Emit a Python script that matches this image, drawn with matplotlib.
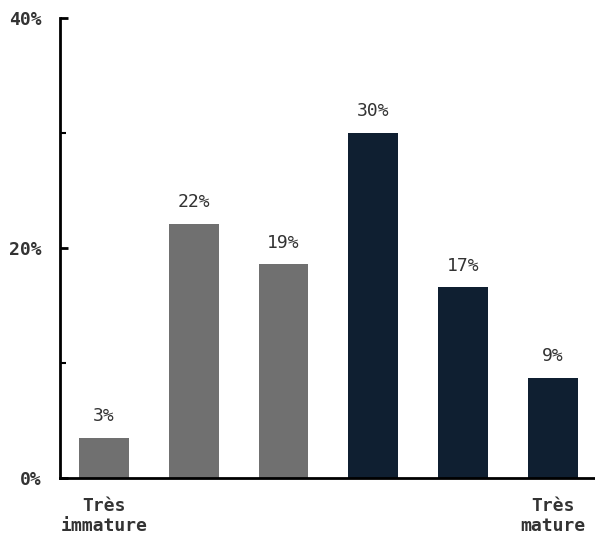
import matplotlib
matplotlib.use("Agg")
import matplotlib.pyplot as plt
from matplotlib.ticker import MultipleLocator, FuncFormatter

categories = ["Très\nimmature", "", "", "", "", "Très\nmature"]
values = [3.5, 22.1, 18.6, 30.0, 16.6, 8.7]
labels = ["3%", "22%", "19%", "30%", "17%", "9%"]
colors = ["#707070", "#707070", "#707070", "#0f1f31", "#0f1f31", "#0f1f31"]

plt.rcParams['font.family'] = ['DejaVu Sans Mono']

fig = plt.figure(figsize=(5.95, 5.35), dpi=100)
ax = fig.add_axes([60/595, 1-478/535, 1-60/595, (478-18)/535])

x = list(range(len(values)))
ax.bar(x, values, width=0.556, color=colors)
for xi, v, l in zip(x, values, labels):
    ax.annotate(l, (xi, v), xytext=(0, 9), textcoords='offset points',
                ha='center', va='bottom', fontsize=13, color='#333333')

ax.set_xlim(-0.49, 5.47)
ax.set_ylim(0, 40)
ax.yaxis.set_major_locator(MultipleLocator(20))
ax.yaxis.set_minor_locator(MultipleLocator(10))
ax.yaxis.set_major_formatter(FuncFormatter(lambda v, p: f"{int(v)}%"))
ax.tick_params(axis='y', which='major', direction='in', length=6, width=2,
               pad=13.5, labelsize=13, labelcolor='#333333')
ax.tick_params(axis='y', which='minor', direction='in', length=4, width=1.5)
for t in ax.get_yticklabels():
    t.set_fontweight('bold')
ax.set_xticks(x)
ax.set_xticklabels(categories, fontsize=13, color='#333333', linespacing=1.15,
                   fontweight='bold')
ax.tick_params(axis='x', length=0, pad=13.5)

for s in ['top', 'right']:
    ax.spines[s].set_visible(False)
ax.spines['left'].set_linewidth(2)
ax.spines['bottom'].set_linewidth(2)

fig.savefig("out.png", dpi=100)
